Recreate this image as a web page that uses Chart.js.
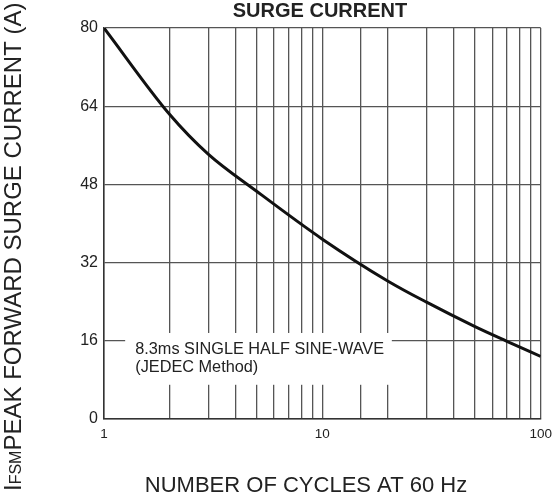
<!DOCTYPE html>
<html lang="en">
<head>
  <meta charset="UTF-8">
  <title>Surge current</title>
  <script src="https://cdn.jsdelivr.net/npm/chart.js"></script>
  <style>
    html, body { margin: 0; padding: 0; background: #fff; }
    #wrap { width: 559px; height: 499px; position: relative; }
  </style>
</head>
<body>
  <div id="wrap"><canvas id="surgeChart"></canvas></div>

  <script>
    // Values (number of cycles -> peak surge current)
    var cycles  = [1, 2, 3, 5, 10, 20, 30, 50, 70, 100];
    var current = [80, 62.3, 54.2, 46.6, 36.8, 28.2, 23.9, 18.9, 15.9, 12.8];
    var xTickLabels = [1, 10, 100];
    var yTicks = [0, 16, 32, 48, 64, 80];

    var FONT = '"Liberation Sans", Arial, sans-serif';
    var TEXT = '#222';
    var GRID = '#555';

    var points = cycles.map(function(c, i) { return { x: c, y: current[i] }; });

    // draws the white note box over the grid, then the titles
    var decorations = {
      id: 'decorations',
      beforeDatasetsDraw: function(chart) {
        var ctx = chart.ctx;
        var xs = chart.scales.x, ys = chart.scales.y;
        var left = xs.getPixelForValue(1.25), right = xs.getPixelForValue(20.8);
        var top = ys.getPixelForValue(17.6), bottom = ys.getPixelForValue(7);
        ctx.save();
        ctx.fillStyle = '#fff';
        ctx.fillRect(left, top, right - left, bottom - top);
        ctx.fillStyle = TEXT;
        ctx.font = '16.3px ' + FONT;
        ctx.textBaseline = 'middle';
        ctx.textAlign = 'left';
        var tx = xs.getPixelForValue(1.39);
        ctx.fillText('8.3ms SINGLE HALF SINE-WAVE', tx, ys.getPixelForValue(14.2));
        ctx.fillText('(JEDEC Method)', tx, ys.getPixelForValue(10.6));
        ctx.restore();
      },
      afterDraw: function(chart) {
        var ctx = chart.ctx;
        ctx.save();
        ctx.fillStyle = TEXT;
        ctx.textBaseline = 'middle';
        ctx.textAlign = 'center';

        ctx.font = 'bold 20px ' + FONT;
        ctx.fillText('SURGE CURRENT', 320, 11);

        ctx.font = '22px ' + FONT;
        ctx.fillText('NUMBER OF CYCLES AT 60 Hz', 306, 486);

        // y title, FSM set small on the same baseline
        ctx.translate(21, 491);
        ctx.rotate(-Math.PI / 2);
        ctx.textAlign = 'left';
        ctx.textBaseline = 'alphabetic';
        var big = '24px ' + FONT, small = '16px ' + FONT;
        var pos = 0;
        ctx.font = big;
        ctx.fillText('I', pos, 0);
        pos += ctx.measureText('I').width;
        ctx.font = small;
        ctx.fillText('FSM', pos, 0);
        pos += ctx.measureText('FSM').width;
        ctx.font = big;
        ctx.fillText('PEAK FORWARD SURGE CURRENT (A)', pos, 0);
        ctx.restore();
      }
    };

    new Chart(document.getElementById('surgeChart'), {
      type: 'line',
      data: {
        datasets: [{
          data: points,
          borderColor: '#111',
          borderWidth: 3,
          pointRadius: 0,
          fill: false,
          cubicInterpolationMode: 'monotone'
        }]
      },
      options: {
        responsive: true,
        maintainAspectRatio: false,
        animation: false,
        layout: { padding: { top: 28, right: 17, left: 0, bottom: 0 } },
        plugins: {
          legend: { display: false },
          tooltip: { enabled: false }
        },
        scales: {
          x: {
            type: 'logarithmic',
            min: 1,
            max: 100,
            afterFit: function(scale) { scale.height = 80; },
            grid: { color: GRID, lineWidth: 1.3, drawTicks: false },
            border: { color: '#333', width: 1.5 },
            ticks: {
              autoSkip: false,
              maxRotation: 0,
              padding: 7,
              color: TEXT,
              font: { family: FONT, size: 13.5 },
              callback: function(v) { return xTickLabels.indexOf(v) >= 0 ? String(v) : ''; }
            }
          },
          y: {
            min: 0,
            max: 80,
            afterFit: function(scale) { scale.width = 104; },
            afterBuildTicks: function(scale) {
              scale.ticks = yTicks.map(function(v) { return { value: v }; });
            },
            grid: { color: GRID, lineWidth: 1.3, drawTicks: false },
            border: { color: '#333', width: 1.5 },
            ticks: {
              padding: 6,
              color: TEXT,
              font: { family: FONT, size: 16 }
            }
          }
        }
      },
      plugins: [decorations]
    });
  </script>
</body>
</html>
